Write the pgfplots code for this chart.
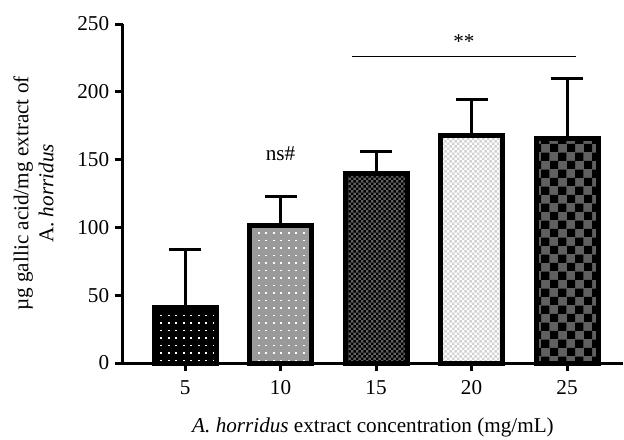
\documentclass[border=0pt]{standalone}
\usepackage{pgfplots}
\pgfplotsset{compat=1.18}
\usepackage{fontspec}
\setmainfont{Liberation Serif}
\usetikzlibrary{patterns}

% square dots and checkerboards of a few sizes
\pgfdeclarepatternformonly{sqdots}{\pgfqpoint{-1pt}{-1pt}}{\pgfqpoint{4.5pt}{4.5pt}}{\pgfqpoint{4.5pt}{4.5pt}}{
  \pgfpathrectangle{\pgfqpoint{1.6pt}{1.6pt}}{\pgfqpoint{1.1pt}{1.1pt}}\pgfusepath{fill}}
\pgfdeclarepatternformonly{chkfine}{\pgfpointorigin}{\pgfqpoint{3.2pt}{3.2pt}}{\pgfqpoint{3.2pt}{3.2pt}}{
  \pgfpathrectangle{\pgfpointorigin}{\pgfqpoint{1.6pt}{1.6pt}}
  \pgfpathrectangle{\pgfqpoint{1.6pt}{1.6pt}}{\pgfqpoint{1.6pt}{1.6pt}}\pgfusepath{fill}}
\pgfdeclarepatternformonly{chkcoarse}{\pgfpointorigin}{\pgfqpoint{10pt}{10pt}}{\pgfqpoint{10pt}{10pt}}{
  \pgfpathrectangle{\pgfpointorigin}{\pgfqpoint{5pt}{5pt}}
  \pgfpathrectangle{\pgfqpoint{5pt}{5pt}}{\pgfqpoint{5pt}{5pt}}\pgfusepath{fill}}

\definecolor{midgray}{HTML}{9A9A9A}
\definecolor{darkchk}{HTML}{606060}
\definecolor{lightchk}{HTML}{D2D2D2}

\begin{document}
\begin{tikzpicture}[font=\fontsize{12.7}{15}\selectfont]
\path[use as bounding box] (-73.8pt,-45.6pt) rectangle (300.6pt,217.8pt);
\begin{axis}[
  at={(0,0)}, anchor=south west,
  scale only axis,
  width=300pt, height=203.4pt,
  xmin=1.75, xmax=27.93,
  ymin=0, ymax=250,
  ybar, bar shift=0pt, bar width=3.25,
  axis x line*=bottom, axis y line*=left,
  axis line style={line width=1.8pt},
  xtick={5,10,15,20,25},
  ytick={0,50,...,250},
  tick align=outside,
  major tick length=4.8pt,
  tick style={line width=1.8pt, black},
  tick label style={font=\fontsize{12.7}{15}\selectfont},
  xticklabel style={yshift=-2pt},
  label style={font=\fontsize{12.7}{15}\selectfont},
  /pgf/number format/assume math mode=true,
  xlabel={\textit{A. horridus} extract concentration (mg/mL)},
  ylabel={µg gallic acid/mg extract of\\A. \textit{horridus}},
  ylabel style={align=center, at={(axis description cs:-0.127,0.5)}},
  xlabel style={at={(axis description cs:0.5,-0.145)}},
  clip=false,
  eb/.style={
    error bars/.cd, y dir=plus, y explicit,
    error bar style={line width=1.8pt, black},
    error mark options={rotate=90, mark size=9.6pt, line width=1.8pt, black}},
]
\addplot[draw=black, line width=3pt, fill=black,
  postaction={pattern=sqdots, pattern color=white}, eb]
  coordinates {(5,41) +- (0,43)};
\addplot[draw=black, line width=3pt, fill=midgray,
  postaction={pattern=sqdots, pattern color=white}, eb]
  coordinates {(10,101.4) +- (0,21.2)};
\addplot[draw=black, line width=3pt, fill=darkchk,
  postaction={pattern=chkfine, pattern color=black}, eb]
  coordinates {(15,139.4) +- (0,16.4)};
\addplot[draw=black, line width=3pt, fill=white,
  postaction={pattern=chkfine, pattern color=lightchk}, eb]
  coordinates {(20,167.5) +- (0,26.5)};
\addplot[draw=black, line width=3pt, fill=darkchk,
  postaction={pattern=chkcoarse, pattern color=black}, eb]
  coordinates {(25,165.6) +- (0,44.4)};

% significance marks
\draw[line width=0.6pt] (axis cs:13.73,225.7) -- (axis cs:25.47,225.7);
\node at (axis cs:19.6,237) {**};
\node at (axis cs:10,154.5) {ns\#};
\end{axis}
\end{tikzpicture}
\end{document}
